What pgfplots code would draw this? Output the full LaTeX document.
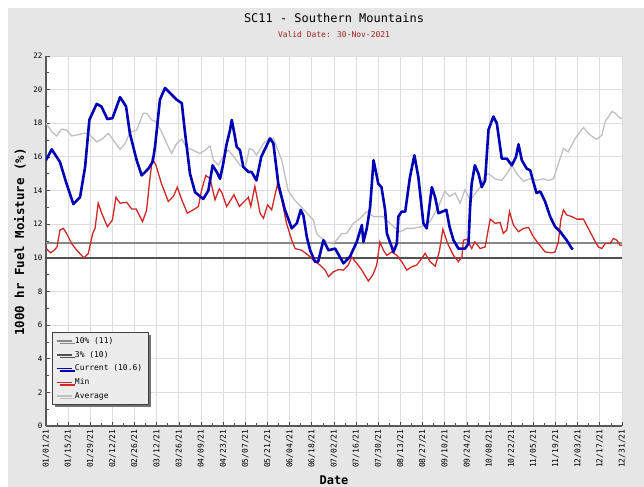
\documentclass[border=0pt]{standalone}
\usepackage{fontspec}
\setmainfont{DejaVu Sans Mono}
\usepackage{pgfplots}
\pgfplotsset{compat=1.18}
\usetikzlibrary{shadows}
\definecolor{panel}{HTML}{E6E6E6}
\definecolor{gridc}{HTML}{DEDEDE}
\definecolor{curblue}{HTML}{0000B4}
\definecolor{minred}{HTML}{D02828}
\definecolor{avggray}{HTML}{C0C0C0}
\definecolor{tenp}{HTML}{888888}
\definecolor{threep}{HTML}{505050}
\definecolor{subred}{HTML}{A02020}
\definecolor{leggray}{HTML}{ECECEC}

\begin{document}
\begin{tikzpicture}
\fill[panel] (8bp,0) rectangle (644bp,479bp);
\useasboundingbox (0,0) rectangle (644bp,487bp);
\node[font=\fontsize{12}{14}\selectfont] at (334bp,469bp) {SC11 - Southern Mountains};
\node[font=\fontsize{8}{10}\selectfont, text=subred] at (334bp,452bp) {Valid Date: 30-Nov-2021};
\node[font=\fontsize{12.5}{14}\selectfont\bfseries, rotate=90] at (20bp,245bp) {1000 hr Fuel Moisture (\%)};
\node[font=\fontsize{12}{14}\selectfont\bfseries] at (334bp,7bp) {Date};
\begin{axis}[
  at={(46bp,61bp)}, anchor=south west,
  scale only axis, width=576bp, height=370bp,
  xmin=0, xmax=364, ymin=0, ymax=22,
  axis background/.style={fill=white},
  axis x line*=bottom, axis y line*=left,
  axis line style={draw=black!65, line width=1.2bp, -},
  xtick={0,14,...,364},
  xticklabels={01/01/21,01/15/21,01/29/21,02/12/21,02/26/21,03/12/21,03/26/21,04/09/21,04/23/21,05/07/21,05/21/21,06/04/21,06/18/21,07/02/21,07/16/21,07/30/21,08/13/21,08/27/21,09/10/21,09/24/21,10/08/21,10/22/21,11/05/21,11/19/21,12/03/21,12/17/21,12/31/21},
  ytick={0,2,...,22},
  minor x tick num=1, minor y tick num=1,
  major tick length=4bp, minor tick length=2.5bp,
  every tick/.style={draw=black!70, line width=0.8bp},
  tick align=inside,
  xmajorgrids, ymajorgrids,
  major grid style={draw=gridc, line width=0.9bp},
  xticklabel style={rotate=90, anchor=east, font=\fontsize{8}{9}\selectfont, xshift=0bp},
  yticklabel style={font=\fontsize{7.5}{9}\selectfont},
  /pgf/number format/assume math mode=true,
  legend cell align=left,
  legend style={at={(rel axis cs:0.0104,0.254)}, anchor=north west,
    font=\fontsize{8}{9}\selectfont, fill=leggray, draw=black!75, line width=0.8bp,
    row sep=2.2bp, inner xsep=4bp, inner ysep=3bp,
    drop shadow={shadow xshift=2.5bp, shadow yshift=-2.5bp, fill=black!55, opacity=1}},
  legend image code/.code={\draw[#1] (0bp,0bp) -- (15bp,0bp);},
]
\addlegendimage{tenp, line width=1.6bp}
\addlegendentry{10\% (11)}
\addlegendimage{threep, line width=1.6bp}
\addlegendentry{3\% (10)}
\addlegendimage{curblue, line width=1.6bp}
\addlegendentry{Current (10.6)}
\addlegendimage{minred, line width=1.6bp}
\addlegendentry{Min}
\addlegendimage{avggray, line width=1.6bp}
\addlegendentry{Average}

\addplot[tenp, line width=1.8bp, forget plot] coordinates {(0,10.9) (364,10.9)};
\addplot[threep, line width=1.8bp, forget plot] coordinates {(0,10.0) (364,10.0)};

% Average
\addplot[avggray, line width=1.3bp, forget plot] table {
0 18.0
3.6 17.5
6.7 17.25
9.9 17.65
13 17.6
16.2 17.25
19.4 17.3
23.6 17.4
26.7 17.4
32 16.9
35.2 17.05
39.4 17.4
42.5 17.0
46.8 16.45
50 16.8
53 17.45
57.3 17.6
61.5 18.6
63.6 18.6
66.8 18.2
69.5 18.1
73 17.5
76.3 16.8
79.4 16.2
82.6 16.8
85.8 17.05
88.9 16.55
93 16.4
97.3 16.2
100.5 16.4
103.7 16.65
105.8 15.8
109 15.5
111 15.9
115.2 16.4
118.8 16.0
122.6 15.5
125.8 15.3
128.5 16.5
131 16.4
133 16.1
137.4 16.8
141 17.1
143.7 17.1
149 15.8
153 14.0
157.4 13.4
161.6 13.0
166.9 12.45
169 12.25
171 11.45
173 11.25
178.5 10.85
182.7 10.95
187 11.45
190 11.45
194.2 12.05
198.5 12.35
202.7 12.75
207 12.45
213 12.45
219.6 11.85
223.8 11.55
228 11.75
232 11.75
237.5 11.85
242.7 12.15
248 13.05
252 13.95
255 13.65
258.5 13.85
261.7 13.25
264.8 14.05
268 13.45
274.4 14.2
277.5 15.0
279.6 15.0
283.8 14.7
288 14.6
291.2 15.0
294.4 15.5
297.5 15.0
301.7 14.55
306 14.7
310 14.6
314.4 14.7
317.5 14.6
320.7 14.7
323.8 15.6
327 16.5
330 16.3
334.4 17.1
339.6 17.75
343.9 17.3
348 17.05
351.3 17.3
353.4 18.1
357.6 18.7
359.7 18.6
362.8 18.3
364 18.3
};

% Min
\addplot[minred, line width=1.3bp, forget plot] table {
0 10.55
3 10.3
5.7 10.5
7 10.65
8.8 11.65
11 11.75
13 11.45
16.2 10.85
19.4 10.45
24 10.0
26.7 10.25
29.5 11.45
31 11.75
33 13.25
35.2 12.65
38.8 11.85
42 12.25
44.2 13.6
46.8 13.25
51 13.3
54.2 12.9
57 12.9
61 12.15
63.6 12.85
65.3 14.4
67.2 15.9
69.5 15.5
73 14.4
77.3 13.35
80.5 13.65
83 14.2
85.8 13.45
89.3 12.65
93 12.85
96.3 13.05
98.4 14.05
101 14.9
103.7 14.7
106.8 13.45
109.5 14.1
111 13.9
114.2 13.05
118.8 13.75
122.2 13.05
127.9 13.6
129.4 13.05
132 14.25
135.3 12.65
137.4 12.35
140 13.15
142.6 12.85
146.2 14.35
149 13.45
152 12.05
155.3 11.05
157.4 10.55
161.6 10.45
165.8 10.15
170 9.77
173.2 9.57
176.4 9.27
178.5 8.88
181.6 9.17
184.8 9.3
188 9.27
191 9.57
193.2 10.05
196.4 9.67
199.6 9.27
203.7 8.62
206.5 8.98
209 9.57
211 10.95
213.2 10.45
215.4 10.15
218.5 10.35
221.7 10.15
224.8 9.77
228 9.27
231.2 9.47
234.3 9.57
237.5 9.97
239.6 10.27
242.7 9.77
246 9.5
248.6 10.4
250.8 11.7
253.8 10.85
257.5 10.15
260.6 9.77
262.8 10.05
263.8 11.05
266 11.1
269 10.55
271 10.95
274.4 10.55
277.5 10.65
279.6 11.75
280.7 12.3
283.8 12.05
287 12.1
289 11.45
291.2 11.65
292.9 12.75
295.4 11.95
298.6 11.55
301.7 11.75
305 11.8
308 11.25
311.2 10.85
315.4 10.35
319.7 10.3
321.7 10.35
323.8 10.95
325.3 12.25
327 12.85
329 12.55
332.3 12.45
335.4 12.3
339.6 12.3
342.7 11.75
346 11.15
349 10.65
351.3 10.55
353.4 10.85
356.5 10.85
358.6 11.15
360.7 11.05
362.8 10.75
364 10.75
};

% Current
\addplot[curblue, line width=2.6bp, line join=round, forget plot] table {
0 15.8
3.6 16.45
8.8 15.7
13 14.4
17.3 13.2
21.5 13.6
24.7 15.4
27.4 18.2
32 19.15
35 19.0
38.8 18.25
42 18.3
46.8 19.55
50.6 19.0
53 17.4
57.3 15.8
60.5 14.9
64.7 15.3
67.4 15.7
68.9 16.6
72 19.4
75.2 20.1
78.4 19.8
82.6 19.4
85.8 19.2
87.9 17.4
91 15.0
94.2 13.9
99.4 13.5
102.6 14.0
105.3 15.5
107.9 15.1
110 14.7
112 15.6
114 16.7
116.3 17.6
117.4 18.2
119 17.4
120.5 16.6
122.6 16.4
124.7 15.4
128 15.1
130 15.1
133 14.6
136 16.0
141.6 17.1
143.7 16.8
146.8 14.4
151 12.85
155.3 11.75
158.5 12.05
161 12.85
162.7 12.5
164.8 11.25
166.9 10.45
170 9.77
172 9.77
175.3 11.05
178.5 10.45
182.7 10.55
188 9.67
192 10.05
196.4 10.95
199.6 11.95
200.6 10.95
202.7 11.75
204.8 13.0
207 15.8
210 14.4
212 14.2
214.3 12.85
215.4 11.45
219.6 10.35
221.7 10.85
222.7 12.45
224.8 12.75
227 12.75
230 14.8
232.8 16.1
235.3 14.8
238.5 12.05
240.6 11.75
243.8 14.2
245.9 13.6
248 12.65
253 12.85
255 11.85
257.5 11.05
260.6 10.55
264.8 10.55
267 10.85
268 13.0
269 14.4
271 15.5
273.3 15.0
275.4 14.2
277.5 14.6
279.6 17.6
282.7 18.4
284.9 18.0
288 15.9
291.2 15.9
294.4 15.5
297 16.0
298.6 16.75
300.7 15.8
303.8 15.3
306 15.2
308 14.5
310 13.85
312.3 13.95
315.4 13.35
318.6 12.45
321.7 11.85
325 11.55
329 11.05
332.3 10.55
333 10.6
};
\end{axis}
\end{tikzpicture}
\end{document}
